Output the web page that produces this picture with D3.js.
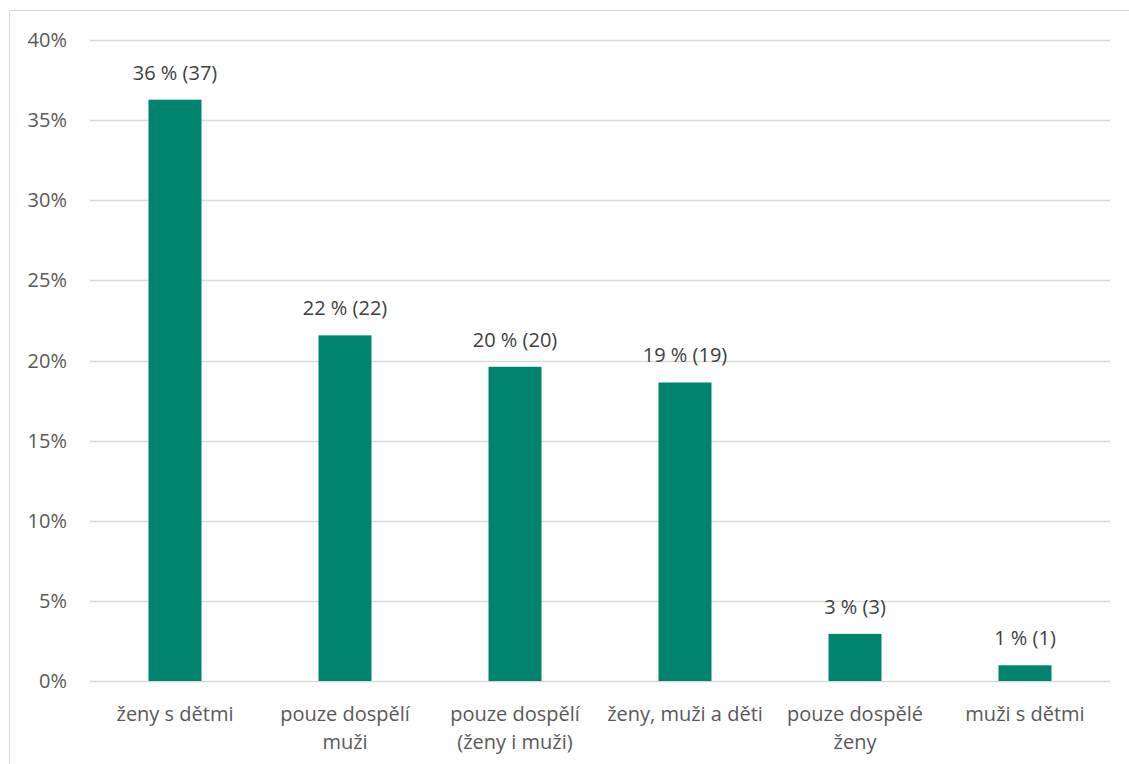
<!DOCTYPE html>
<html><head><meta charset="utf-8">
<script src="https://cdn.jsdelivr.net/npm/d3@7"></script>
<style>body{margin:0;background:#fff;}svg{display:block;}text{font-family:"Open Sans",Lato,sans-serif;}</style>
</head><body>
<script>
const categories = [["ženy s dětmi"],["pouze dospělí","muži"],["pouze dospělí","(ženy i muži)"],["ženy, muži a děti"],["pouze dospělé","ženy"],["muži s dětmi"]];
const counts = [37,22,20,19,3,1];
const total = 102;
const pctLabels = ["36 %","22 %","20 %","19 %","3 %","1 %"];
const yTicks = [0,0.05,0.10,0.15,0.20,0.25,0.30,0.35,0.40];

(function(){
const W=1129,H=764,fs=20;
const svg=d3.select("body").append("svg").attr("width",W).attr("height",H);
svg.append("rect").attr("x",9.5).attr("y",10.5).attr("width",1130).attr("height",770).attr("fill","#fff").attr("stroke","#d9d9d9");
const mL=90,mR=1110,mT=40,mB=681;
const x=d3.scaleBand().domain(d3.range(categories.length)).range([mL,mR]).padding(0);
const y=d3.scaleLinear().domain([0,0.40]).range([mB,mT]);
const bw=53;
svg.append("g").selectAll("line").data(yTicks).join("line")
  .attr("x1",mL).attr("x2",mR).attr("y1",d=>Math.round(y(d))+0.5).attr("y2",d=>Math.round(y(d))+0.5)
  .attr("stroke","#d9d9d9").attr("stroke-width",1.3);
svg.append("g").selectAll("text").data(yTicks).join("text")
  .attr("x",67).attr("y",d=>y(d)).attr("dy","0.35em").attr("text-anchor","end")
  .attr("font-size",fs).attr("fill","#595959").text(d=>Math.round(d*100)+"%");
const vals=counts.map(c=>c/total);
svg.append("g").selectAll("rect").data(vals).join("rect")
  .attr("x",(d,i)=>x(i)+x.bandwidth()/2-bw/2).attr("width",bw)
  .attr("y",d=>y(d)).attr("height",d=>y(0)-y(d)).attr("fill","#00846f");
svg.append("g").selectAll("text").data(vals).join("text")
  .attr("x",(d,i)=>x(i)+x.bandwidth()/2).attr("y",d=>y(d)-27).attr("dy","0.35em")
  .attr("text-anchor","middle").attr("font-size",fs).attr("fill","#404040")
  .text((d,i)=>pctLabels[i]+" ("+counts[i]+")");
const cg=svg.append("g");
categories.forEach((lines,i)=>{
  const t=cg.append("text").attr("x",x(i)+x.bandwidth()/2).attr("y",714)
    .attr("text-anchor","middle").attr("font-size",fs).attr("fill","#595959");
  lines.forEach((l,j)=>t.append("tspan").attr("x",x(i)+x.bandwidth()/2).attr("dy",j?"28px":"0.35em").text(l));
});
})();
</script>
</body></html>
